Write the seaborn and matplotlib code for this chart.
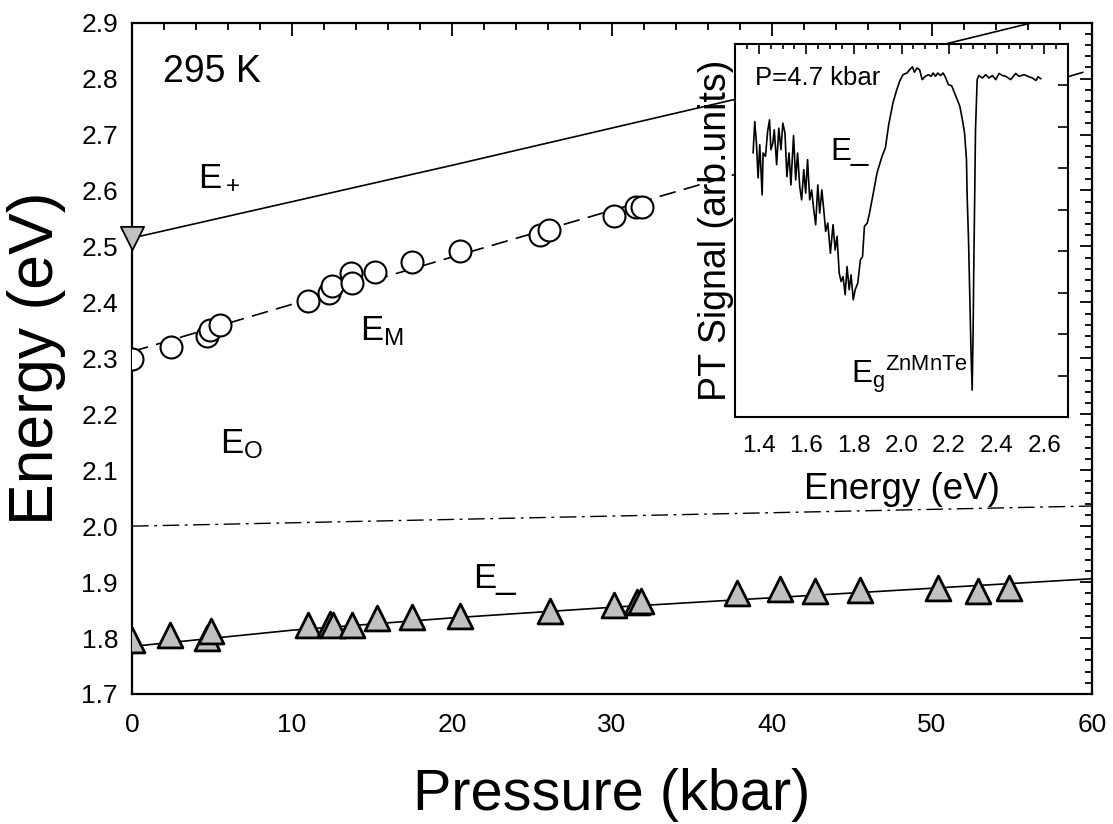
import matplotlib
matplotlib.use('Agg')
import matplotlib.pyplot as plt
from matplotlib.ticker import MultipleLocator, NullFormatter, FormatStrFormatter
import seaborn as sns

# E_M points (open circles)
press_m = [0.0, 2.42, 4.67, 4.88, 5.5, 11.0, 12.33, 12.48, 13.67, 13.73, 15.19,
           17.48, 20.5, 25.5, 26.08, 30.1, 31.5, 31.85]
energy_m = [2.298, 2.321, 2.339, 2.351, 2.360, 2.402, 2.417, 2.429, 2.452, 2.435,
            2.455, 2.473, 2.491, 2.521, 2.530, 2.554, 2.571, 2.570]

# E_ points (grey triangles)
press_lo = [0.02, 2.38, 4.7, 4.92, 11.0, 12.4, 12.54, 13.73, 15.3, 17.48, 20.5,
            26.1, 30.15, 31.54, 31.8, 37.83, 40.5, 42.7, 45.5, 50.4, 52.9, 54.8]
energy_lo = [1.797, 1.805, 1.800, 1.812, 1.823, 1.825, 1.824, 1.824, 1.835, 1.837,
             1.840, 1.848, 1.859, 1.865, 1.867, 1.881, 1.887, 1.884, 1.885, 1.890,
             1.884, 1.890]

# E+ point at zero pressure
press_up = [0.0]
energy_up = [2.515]

# fitted curves
fit_up_p = [0, 20, 38, 51, 57, 61]
fit_up_e = [2.515, 2.645, 2.765, 2.863, 2.905, 2.935]
fit_m_p = [0, 20, 40, 60]
fit_m_e = [2.312, 2.481, 2.648, 2.816]
fit_o_p = [0, 60]
fit_o_e = [2.000, 2.036]
fit_lo_p = [0, 10, 20, 30, 40, 50, 60]
fit_lo_e = [1.785, 1.814, 1.836, 1.855, 1.872, 1.889, 1.906]

# PT spectrum at 4.7 kbar (inset)
spec_e = [1.376, 1.383, 1.390, 1.397, 1.404, 1.414, 1.418, 1.428, 1.437, 1.445,
          1.451, 1.459, 1.465, 1.475, 1.484, 1.493, 1.501, 1.510, 1.518, 1.527,
          1.535, 1.546, 1.555, 1.563, 1.572, 1.580, 1.589, 1.597, 1.605, 1.614,
          1.622, 1.631, 1.639, 1.648, 1.656, 1.665, 1.673, 1.681, 1.690, 1.701,
          1.712, 1.721, 1.729, 1.738, 1.746, 1.754, 1.763, 1.771, 1.780, 1.788,
          1.797, 1.805, 1.816, 1.827, 1.836, 1.844, 1.856, 1.864, 1.876, 1.889,
          1.897, 1.918, 1.932, 1.946, 1.964, 1.978, 1.992, 2.006, 2.023, 2.034,
          2.046, 2.054, 2.065, 2.076, 2.087, 2.100, 2.114, 2.124, 2.133, 2.143,
          2.152, 2.164, 2.175, 2.186, 2.197, 2.211, 2.220, 2.234, 2.245, 2.256,
          2.265, 2.273, 2.276, 2.282, 2.287, 2.292, 2.297, 2.301, 2.304, 2.308,
          2.311, 2.318, 2.325, 2.340, 2.354, 2.368, 2.382, 2.396, 2.410, 2.424,
          2.438, 2.459, 2.480, 2.494, 2.515, 2.536, 2.550, 2.565, 2.574, 2.586]
spec_s = [6.37, 7.13, 6.61, 5.77, 6.57, 5.36, 6.37, 6.29, 6.89, 7.17,
          6.45, 6.61, 6.93, 6.09, 6.97, 6.45, 7.09, 6.85, 5.80, 6.37,
          5.60, 6.79, 5.72, 6.37, 5.56, 5.24, 5.97, 5.40, 6.21, 5.24,
          5.48, 5.00, 4.64, 5.60, 4.92, 5.48, 5.00, 4.48, 4.68, 3.95,
          4.64, 4.03, 4.36, 3.47, 3.27, 3.39, 2.95, 3.63, 3.07, 3.43,
          2.83, 3.07, 3.23, 3.79, 3.87, 4.60, 4.68, 4.88, 5.24, 5.64,
          5.89, 6.29, 6.49, 7.05, 7.58, 7.86, 8.10, 8.26, 8.30, 8.38,
          8.45, 8.32, 8.42, 8.38, 8.14, 8.22, 8.26, 8.22, 8.30, 8.22,
          8.30, 8.24, 8.30, 8.18, 8.02, 7.99, 7.86, 7.66, 7.50, 7.17,
          6.85, 6.21, 5.32, 4.20, 2.91, 1.60, 0.65, 2.10, 3.72, 5.50,
          6.93, 8.14, 8.24, 8.18, 8.26, 8.18, 8.24, 8.14, 8.29, 8.24,
          8.22, 8.14, 8.29, 8.22, 8.26, 8.21, 8.18, 8.12, 8.21, 8.16]

sns.set_theme(style='white')
plt.rcParams['font.family'] = ['Liberation Sans', 'DejaVu Sans']
plt.rcParams['mathtext.fontset'] = 'custom'
plt.rcParams['mathtext.rm'] = 'Liberation Sans'
plt.rcParams['mathtext.it'] = 'Liberation Sans:italic'
plt.rcParams['mathtext.bf'] = 'Liberation Sans:bold'
plt.rcParams.update({'text.color': 'black', 'axes.labelcolor': 'black',
                     'xtick.color': 'black', 'ytick.color': 'black'})

fig = plt.figure(figsize=(11.13, 8.24), dpi=100)
ax = fig.add_axes([0.1186, 0.1578, 0.8625, 0.8147])

grey = '#c0c0c0'

# fitted curves
sns.lineplot(x=fit_up_p, y=fit_up_e, ax=ax, color='black', linewidth=1.2)
sns.lineplot(x=fit_m_p, y=fit_m_e, ax=ax, color='black', linewidth=1.2,
             linestyle=(0, (10, 5)))
sns.lineplot(x=fit_o_p, y=fit_o_e, ax=ax, color='black', linewidth=1.0,
             linestyle=(0, (12, 4, 2, 4)))
sns.lineplot(x=fit_lo_p, y=fit_lo_e, ax=ax, color='black', linewidth=1.2)

# data points
sns.scatterplot(x=press_m, y=energy_m, ax=ax, marker='o', s=250, color='white',
                edgecolor='black', linewidth=1.5, zorder=4)
sns.scatterplot(x=press_lo, y=energy_lo, ax=ax, marker='^', s=320, color=grey,
                edgecolor='black', linewidth=2.0, zorder=4)
sns.scatterplot(x=press_up, y=energy_up, ax=ax, marker='v', s=280, color=grey,
                edgecolor='black', linewidth=1.3, zorder=4, clip_on=False)

ax.set_xlim(0, 60)
ax.set_ylim(1.7, 2.9)
ax.xaxis.set_major_locator(MultipleLocator(10))
ax.xaxis.set_minor_locator(MultipleLocator(2))
ax.yaxis.set_major_locator(MultipleLocator(0.1))
ax.yaxis.set_minor_locator(MultipleLocator(0.02))
ax.tick_params(which='both', direction='in', top=True, right=True,
               width=1.3, labelsize=19)
ax.tick_params(which='major', length=9)
ax.tick_params(which='minor', length=5)
ax.tick_params(axis='x', pad=14)
ax.tick_params(axis='y', pad=10)
for sp in ax.spines.values():
    sp.set_linewidth(1.6)
    sp.set_color('black')

ax.set_xlabel('Pressure (kbar)', fontsize=41.5, labelpad=22)
ax.set_ylabel('Energy (eV)', fontsize=45, labelpad=11)

ax.text(1.94, 2.812, '295 K', fontsize=27, va='center', ha='left')
ax.text(4.1, 2.607, r'$\mathregular{E_+}$', fontsize=25, va='baseline', ha='left')
ax.text(14.25, 2.332, r'$\mathregular{E_M}$', fontsize=25, va='baseline', ha='left')
ax.text(5.5, 2.131, r'$\mathregular{E_O}$', fontsize=25, va='baseline', ha='left')
ax.text(21.3, 1.890, 'E_', fontsize=25, va='baseline', ha='left')

# inset spectrum
ax_in = fig.add_axes([0.6604, 0.4939, 0.2992, 0.4527])
ax_in.set_facecolor('white')
sns.lineplot(x=spec_e, y=spec_s, ax=ax_in, color='black', linewidth=1.2)
ax_in.set_xlim(1.3, 2.7)
ax_in.set_ylim(0, 9)
ax_in.xaxis.set_major_locator(MultipleLocator(0.2))
ax_in.xaxis.set_minor_locator(MultipleLocator(0.05))
ax_in.set_yticks([1, 2, 3, 4, 5, 6, 7, 8])
ax_in.yaxis.set_major_formatter(NullFormatter())
ax_in.xaxis.set_major_formatter(FormatStrFormatter('%.1f'))
ax_in.tick_params(which='both', direction='in', top=True, right=True,
                  width=1.2, labelsize=17.5)
ax_in.tick_params(which='major', length=7)
ax_in.tick_params(which='minor', length=3.5)
ax_in.tick_params(axis='x', pad=13)
for sp in ax_in.spines.values():
    sp.set_linewidth(1.5)
    sp.set_color('black')
ax_in.set_xlabel('Energy (eV)', fontsize=26.5, labelpad=11)
ax_in.set_ylabel('PT Signal (arb.units)', fontsize=27, labelpad=-3)

ax_in.text(1.383, 8.02, 'P=4.7 kbar', fontsize=18.5, va='baseline', ha='left')
ax_in.text(1.70, 6.21, 'E_', fontsize=22.5, va='baseline', ha='left')
ax_in.text(1.787, 0.83, r'$\mathregular{E_g{}^{ZnMnTe}}$', fontsize=22.5,
           va='baseline', ha='left')

fig.savefig('out.png', dpi=100)
